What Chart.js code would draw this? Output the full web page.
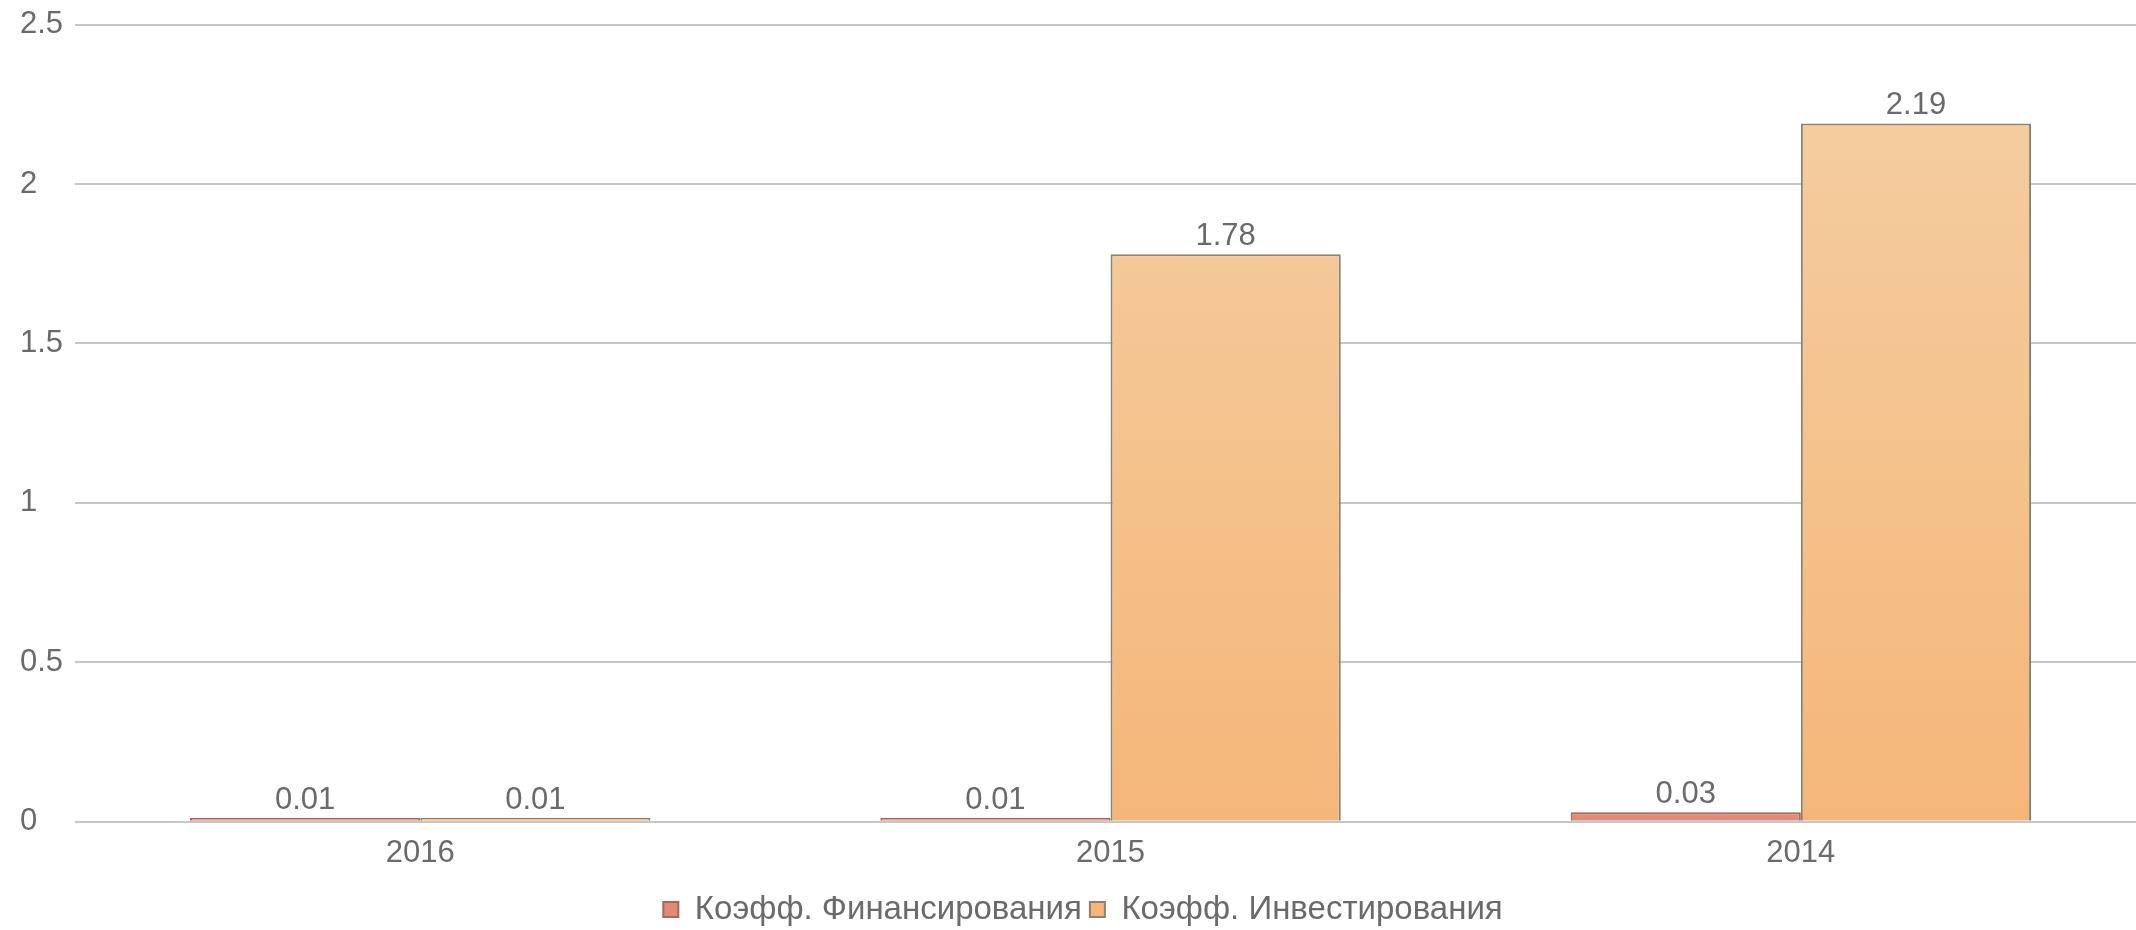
<!DOCTYPE html>
<html>
<head>
<meta charset="utf-8">
<script src="https://cdn.jsdelivr.net/npm/chart.js@4"></script>
<style>
  html, body { margin: 0; padding: 0; background: #fff; overflow: hidden; }
  #wrap { width: 2146px; height: 936px; }
</style>
</head>
<body>
<div id="wrap"><canvas id="coef"></canvas></div>
<script>
var years = ["2016", "2015", "2014"];
var finValues = [0.01, 0.01, 0.03];
var invValues = [0.01, 1.78, 2.19];
var seriesNames = ["Коэфф. Финансирования", "Коэфф. Инвестирования"];

var fontFamily = '"Liberation Sans", Arial, sans-serif';

function grad(ctx, top, bottom) {
    var ca = ctx.chart.chartArea;
    if (!ca) return bottom;
    var g = ctx.chart.ctx.createLinearGradient(0, ca.top, 0, ca.bottom);
    g.addColorStop(0, top);
    g.addColorStop(1, bottom);
    return g;
}

// подписи значений над столбцами
var valueLabels = {
    id: 'valueLabels',
    afterDatasetsDraw: function (chart) {
        var c = chart.ctx;
        c.save();
        c.font = '31px ' + fontFamily;
        c.fillStyle = '#6a6a6a';
        c.textAlign = 'center';
        c.textBaseline = 'bottom';
        chart.data.datasets.forEach(function (ds, i) {
            chart.getDatasetMeta(i).data.forEach(function (bar, j) {
                c.fillText(ds.data[j].toFixed(2), bar.x, bar.y - 2);
            });
        });
        c.restore();
    }
};

var coefChart = new Chart(document.getElementById('coef'), {
    type: 'bar',
    data: {
        labels: years,
        datasets: [
            {
                label: seriesNames[0],
                data: finValues,
                backgroundColor: function (ctx) { return grad(ctx, '#eca392', '#de8b78'); },
                borderColor: '#a5685a',
                borderWidth: 2,
                minBarLength: 4,
                categoryPercentage: 0.667,
                barPercentage: 1.0
            },
            {
                label: seriesNames[1],
                data: invValues,
                backgroundColor: function (ctx) { return grad(ctx, '#f4d0a4', '#f5b679'); },
                borderColor: '#8a8270',
                borderWidth: 2,
                minBarLength: 4,
                categoryPercentage: 0.667,
                barPercentage: 1.0
            }
        ]
    },
    options: {
        responsive: true,
        maintainAspectRatio: false,
        animation: false,
        layout: { padding: { top: 20, left: 20, right: 0, bottom: 0 } },
        plugins: {
            tooltip: { enabled: false },
            legend: {
                position: 'bottom',
                labels: {
                    color: '#6a6a6a',
                    font: { size: 33, family: fontFamily },
                    boxWidth: 15,
                    boxHeight: 15,
                    padding: 8
                }
            }
        },
        scales: {
            x: {
                grid: { display: false, drawTicks: false },
                border: { display: false },
                ticks: {
                    color: '#6a6a6a',
                    font: { size: 31, family: fontFamily },
                    padding: 13
                }
            },
            y: {
                min: 0,
                max: 2.5,
                border: { display: false },
                grid: { color: '#c6c6c6', lineWidth: 2, drawTicks: false },
                ticks: {
                    stepSize: 0.5,
                    color: '#6a6a6a',
                    crossAlign: 'far',
                    padding: 6,
                    font: { size: 31, family: fontFamily },
                    callback: function (v) { return String(Number(v)); }
                }
            }
        }
    },
    plugins: [valueLabels]
});
</script>
</body>
</html>
